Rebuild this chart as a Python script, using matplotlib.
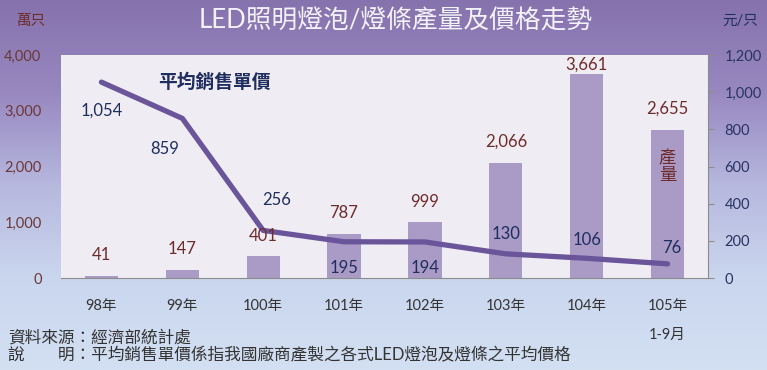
import numpy as np
import matplotlib
matplotlib.use("Agg")
import matplotlib.pyplot as plt
from matplotlib.colors import LinearSegmentedColormap
from matplotlib.transforms import blended_transform_factory

plt.rcParams['font.family'] = ['Lato', 'Noto Sans CJK TC', 'DejaVu Sans']

# data
years = ['98年', '99年', '100年', '101年', '102年', '103年', '104年', '105年']
production = [41, 147, 401, 787, 999, 2066, 3661, 2655]   # 萬只
price = [1054, 859, 256, 195, 194, 130, 106, 76]          # 元/只
left_ticks = [0, 1000, 2000, 3000, 4000]
right_ticks = [0, 200, 400, 600, 800, 1000, 1200]

# label offsets in pixels (dx, dy), picked by eye
prod_off = [(0, 21), (0, 21), (0, 20), (0, 21), (0, 20), (0, 21), (0, 9), (0, 21)]
price_off = [(0, -28), (-18, -31), (13, 30), (0, -26), (0, -26), (0, 20), (0, 18), (4, 16)]

bar_col = '#a99bc6'
line_col = '#6a559b'
prod_txt = '#6e2b2b'
price_txt = '#1f2d5f'

fig = plt.figure(figsize=(7.67, 3.70), dpi=100)

# background gradient, purple at the top to pale blue at the bottom
bg = fig.add_axes([0, 0, 1, 1], zorder=-10)
grad = LinearSegmentedColormap.from_list('bg', ['#8672ad', '#9888c0', '#b6b8de', '#cad6ee', '#d3e0f3'])
bg.imshow(np.linspace(0, 1, 256).reshape(-1, 1), aspect='auto', cmap=grad,
          extent=[0, 1, 0, 1])
bg.set_axis_off()

ax = fig.add_axes([61 / 767, 1 - 278 / 370, 647 / 767, 223 / 370])
ax.set_facecolor('#efedf3')
x = np.arange(len(years))
ax.bar(x, production, width=0.41, color=bar_col, zorder=2)
ax.set_xlim(-0.5, len(years) - 0.5)
ax.set_ylim(0, 4000)
ax.set_yticks(left_ticks)
ax.set_yticklabels([f'{t:,}' for t in left_ticks])
ax.tick_params(axis='y', length=0, pad=14, labelsize=10.5, labelcolor='#6b3838')
ax.set_xticks(x)
ax.set_xticklabels(years)
ax.tick_params(axis='x', length=0, pad=15, labelsize=10.5, labelcolor='#333333')
for s in ['top', 'left', 'right']:
    ax.spines[s].set_visible(False)
ax.spines['bottom'].set_color('#8c8c8c')

ax2 = ax.twinx()
ax2.plot(x, price, color=line_col, lw=3.8, solid_capstyle='round',
         solid_joinstyle='round', zorder=3)
ax2.set_ylim(0, 1200)
ax2.set_yticks(right_ticks)
ax2.set_yticklabels([f'{t:,}' for t in right_ticks])
ax2.tick_params(axis='y', length=4, pad=8, labelsize=10.5, labelcolor='#2a3462',
                color='#8c8c8c')
for s in ['top', 'left', 'bottom']:
    ax2.spines[s].set_visible(False)
ax2.spines['right'].set_color('#8c8c8c')

# value labels
for i, v in enumerate(production):
    ax2.annotate(f'{v:,}', xy=(i, v), xycoords=ax.transData,
                 xytext=prod_off[i], textcoords='offset pixels',
                 ha='center', va='center', fontsize=12, color=prod_txt,
                 annotation_clip=False, zorder=5)
for i, v in enumerate(price):
    ax2.annotate(f'{v:,}', xy=(i, v), xytext=price_off[i], textcoords='offset pixels',
                 ha='center', va='center', fontsize=12, color=price_txt,
                 annotation_clip=False, zorder=5)

ax2.text(1.4, 1060, '平均銷售單價', ha='center', va='center', fontsize=13.5,
         fontweight='bold', color=price_txt, zorder=5)
ax.text(7, 2000, '產\n量', ha='center', va='center', fontsize=12.5,
        color=prod_txt, linespacing=1.0, zorder=4)

# second line under the last category
trans = blended_transform_factory(ax.transData, fig.transFigure)
ax.text(7, 1 - 335 / 370, '1-9月', transform=trans, ha='center', va='center',
        fontsize=10.5, color='#333333')

# header texts
fig.text(396 / 767, 1 - 21 / 370, 'LED照明燈泡/燈條產量及價格走勢', ha='center',
         va='center', fontsize=18.5, color='#f3f1fa')
fig.text(31 / 767, 1 - 21 / 370, '萬只', ha='center', va='center', fontsize=10.5,
         color='#6e2b2b')
fig.text(740 / 767, 1 - 21 / 370, '元/只', ha='center', va='center', fontsize=10.5,
         color='#1f2d5f')

# notes
fig.text(8 / 767, 1 - 337 / 370, '資料來源：經濟部統計處', ha='left', va='center',
         fontsize=12, color='#333333')
fig.text(8 / 767, 1 - 355 / 370, '說\u3000\u3000明：平均銷售單價係指我國廠商產製之各式LED燈泡及燈條之平均價格',
         ha='left', va='center', fontsize=12, color='#333333')

fig.savefig('out.png', dpi=100)
